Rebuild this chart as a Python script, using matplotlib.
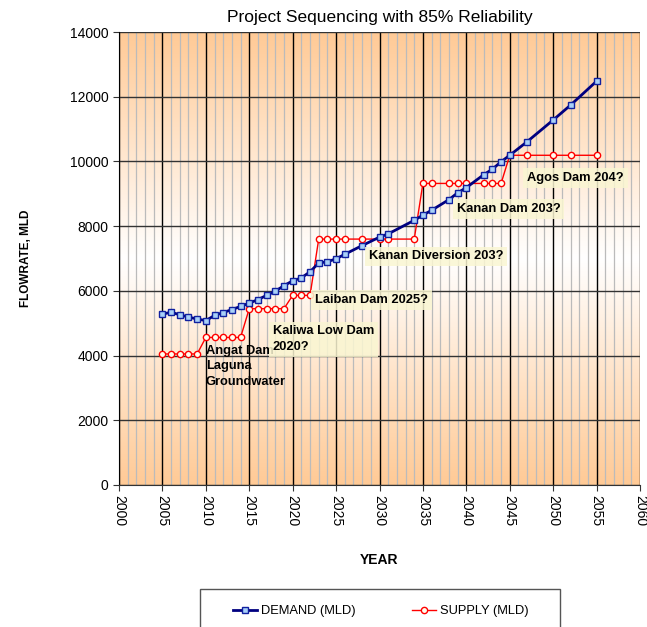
import numpy as np
import matplotlib.pyplot as plt
from matplotlib.ticker import MultipleLocator
from matplotlib.colors import to_rgb
from matplotlib.patches import Rectangle

plt.rcParams['font.family'] = ['Liberation Sans', 'DejaVu Sans']

# --- data ---
years = [2005, 2006, 2007, 2008, 2009, 2010, 2011, 2012, 2013, 2014,
         2015, 2016, 2017, 2018, 2019, 2020, 2021, 2022, 2023, 2024,
         2025, 2026, 2028, 2030, 2031, 2034, 2035, 2036, 2038, 2039,
         2040, 2042, 2043, 2044, 2045, 2047, 2050, 2052, 2055]

demand = [5280, 5340, 5260, 5190, 5130, 5080, 5240, 5330, 5420, 5520,
          5620, 5730, 5860, 5990, 6160, 6310, 6400, 6590, 6860, 6900,
          6990, 7130, 7400, 7660, 7760, 8180, 8340, 8490, 8820, 9030,
          9190, 9590, 9760, 9990, 10190, 10610, 11280, 11740, 12480]

supply = [4050, 4050, 4050, 4050, 4050, 4560, 4560, 4560, 4560, 4560,
          5450, 5450, 5450, 5450, 5450, 5860, 5860, 5860, 7600, 7600,
          7600, 7600, 7600, 7600, 7600, 7600, 9320, 9320, 9320, 9320,
          9320, 9320, 9320, 9320, 10190, 10190, 10190, 10190, 10190]

# project labels: (text, x, y)
projects = [
    ("Kaliwa Low Dam\n2020?", 2017.7, 4080),
    ("Laiban Dam 2025?", 2022.6, 5540),
    ("Kanan Diversion 203?", 2028.8, 6880),
    ("Kanan Dam 203?", 2038.9, 8340),
    ("Agos Dam 204?", 2047.0, 9310),
]

fig = plt.figure(figsize=(6.47, 6.27), dpi=100)
ax = fig.add_axes([119 / 647, 1 - 485 / 627, 521 / 647, 453 / 627])

# orange-white-orange background
orange = np.array(to_rgb('#FFCA96'))
white = np.array([1.0, 1.0, 1.0])
t = np.linspace(0, 1, 256)
w = np.abs(t - 0.5) * 2
grad = white[None, :] * (1 - w[:, None]) + orange[None, :] * w[:, None]
grad = np.repeat(grad[:, None, :], 2, axis=1)
ax.imshow(grad, extent=[2000, 2060, 0, 14000], aspect='auto', zorder=0,
          interpolation='bilinear')

ax.set_xlim(2000, 2060)
ax.set_ylim(0, 14000)
ax.xaxis.set_major_locator(MultipleLocator(5))
ax.xaxis.set_minor_locator(MultipleLocator(1))
ax.yaxis.set_major_locator(MultipleLocator(2000))

ax.grid(which='minor', axis='x', color='#BBBBBB', lw=0.9, zorder=1)
ax.grid(which='major', axis='x', color='black', lw=1.0, zorder=1)
ax.grid(which='major', axis='y', color='#333333', lw=1.0, zorder=1)

ax.plot(years, demand, color='#000080', lw=2, marker='s', ms=4.5,
        mfc='#A8D0F8', mec='#1020A0', mew=1, zorder=4, label='DEMAND (MLD)')
ax.plot(years, supply, color='#FF0000', lw=1, marker='o', ms=4.5,
        mfc='#FFFFF0', mec='#FF0000', mew=1, zorder=3, label='SUPPLY (MLD)')

# project annotations
ax.text(2010.0, 4330, "Angat Dam\nLaguna\nGroundwater", fontsize=9.3,
        fontweight='bold', va='top', ha='left', linespacing=1.4, zorder=5)
for txt, x, y in projects:
    ax.text(x, y, txt, fontsize=9.3, fontweight='bold', va='bottom', ha='left',
            linespacing=1.4, zorder=5,
            bbox=dict(boxstyle='square,pad=0.3', fc='#FAF6D2', ec='none',
                      alpha=0.85))

for s in ['top', 'right']:
    ax.spines[s].set_visible(False)
ax.spines['left'].set_color('black')
ax.spines['bottom'].set_color('#333333')

ax.tick_params(axis='both', which='major', labelsize=10, length=4,
               direction='out', color='#333333')
ax.tick_params(axis='x', which='minor', length=0)
ax.tick_params(axis='x', labelrotation=-90)

ax.set_title('Project Sequencing with 85% Reliability', fontsize=12.5, pad=7)
ax.set_ylabel('FLOWRATE, MLD', fontsize=8.5, fontweight='bold', labelpad=27)
ax.set_xlabel('YEAR', fontsize=10, fontweight='bold', labelpad=19)

# legend box running off the bottom edge
fig.patches.append(Rectangle((200 / 647, -0.05), 360 / 647, 0.05 + 38 / 627,
                             transform=fig.transFigure, fill=False,
                             ec='#555555', lw=1.0))
leg = fig.legend(loc='center', ncol=2, bbox_to_anchor=(381 / 647, 1 - 611 / 627),
                 fontsize=9.3, frameon=False, handlelength=1.85,
                 handletextpad=0.3, columnspacing=4.4, borderpad=0)

fig.savefig('out.png', dpi=100)
